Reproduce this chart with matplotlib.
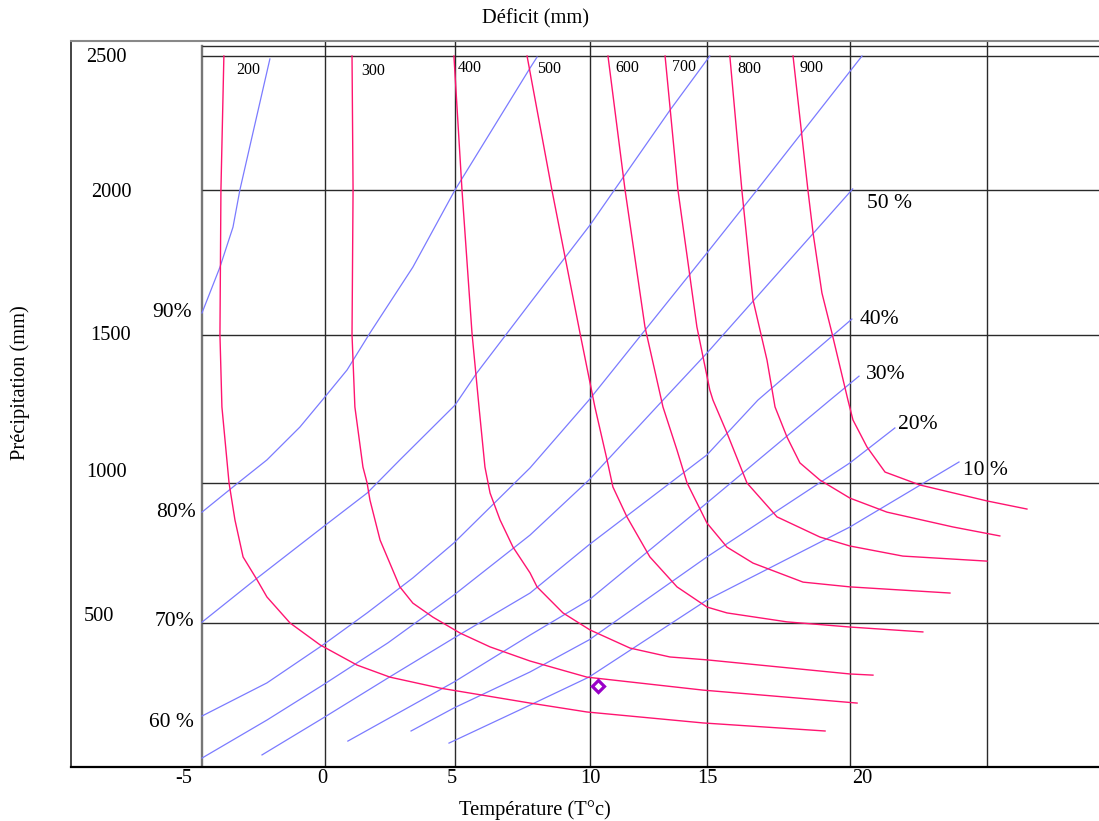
import numpy as np
import matplotlib
matplotlib.use("Agg")
import matplotlib.pyplot as plt

# deficit isolines (mm): temperature (°C) and precipitation (mm) along each curve
d200_t = [-4.11, -4.23, -4.27, -4.19, -3.90, -3.66, -3.33, -2.76, -2.36, -1.42, -0.20, 1.23, 2.5, 4.42, 7.78, 9.89, 14.83, 19.13]
d200_p = [2500, 2000, 1500, 1257, 1000, 868, 736, 654, 593, 500, 424, 354, 312, 274, 222, 191, 153, 125]
d300_t = [1.04, 1.08, 1.04, 1.15, 1.46, 1.62, 1.73, 2.12, 2.88, 3.38, 4.15, 5.19, 6.30, 7.78, 9.89, 14.83, 20.26]
d300_p = [2500, 2000, 1500, 1257, 1054, 1000, 939, 796, 629, 571, 521, 465, 417, 368, 312, 267, 222]
d400_t = [4.96, 5.26, 5.63, 5.89, 6.11, 6.30, 6.67, 7.15, 7.78, 8.04, 9.0, 10.0, 11.71, 13.42, 15.0, 20.0, 20.84]
d400_p = [2500, 2000, 1507, 1257, 1054, 964, 868, 771, 679, 629, 536, 476, 413, 382, 372, 323, 319]
d500_t = [7.67, 8.59, 9.63, 10.21, 10.73, 10.98, 11.58, 12.56, 13.72, 15.0, 15.70, 17.80, 20.0, 22.66]
d500_p = [2500, 2000, 1507, 1257, 1078, 986, 879, 736, 629, 557, 536, 504, 486, 469]
d600_t = [10.77, 11.50, 12.35, 13.12, 13.72, 14.15, 15.0, 15.70, 16.61, 18.36, 20.0, 23.65]
d600_p = [2500, 2000, 1528, 1257, 1111, 1000, 857, 771, 714, 646, 629, 607]
d700_t = [13.21, 13.76, 14.57, 15.10, 15.21, 15.70, 16.40, 17.45, 18.95, 20.0, 21.93, 25.0]
d700_p = [2500, 2000, 1528, 1314, 1280, 1169, 1000, 879, 807, 775, 739, 721]
d800_t = [15.80, 16.22, 16.61, 17.10, 17.38, 17.80, 18.25, 18.95, 20.0, 21.35, 23.76, 25.47]
d800_p = [2500, 2000, 1621, 1415, 1257, 1155, 1068, 1010, 946, 896, 843, 811]
d900_t = [18.01, 18.53, 18.71, 19.02, 19.37, 19.93, 20.11, 20.62, 21.28, 22.55, 25.0, 26.46]
d900_p = [2500, 2000, 1852, 1645, 1507, 1280, 1213, 1122, 1037, 993, 936, 907]

# humidity isolines (%)
h90_t = [-5, -4.27, -3.74, -3.46, -2.93, -2.24]
h90_p = [1576, 1734, 1872, 2000, 2213, 2489]
h80_t = [-5, -3.54, -2.36, -1.02, 0, 0.85, 1.73, 3.38, 5.0, 7.78, 8.04]
h80_p = [896, 1000, 1078, 1189, 1291, 1382, 1507, 1734, 2000, 2455, 2496]
h70_t = [-5, -2.85, -0.08, 1.62, 2.88, 5.0, 5.81, 7.78, 10.0, 13.42, 15.1]
h70_p = [503, 654, 843, 964, 1078, 1263, 1372, 1610, 1879, 2298, 2500]
h60_t = [-5, -2.36, -0.08, 1.62, 3.38, 4.96, 7.78, 9.96, 15.0, 16.75, 20.44]
h60_p = [177, 292, 424, 536, 661, 786, 1051, 1280, 1783, 2000, 2500]
h50_t = [-5, -2.36, -0.08, 2.42, 4.96, 7.78, 9.96, 13.12, 15.0, 20.1]
h50_p = [31, 163, 285, 431, 600, 814, 1010, 1280, 1439, 2004]
h40_t = [-2.56, -0.08, 2.42, 4.96, 7.78, 9.96, 15.0, 16.78, 20.07]
h40_p = [42, 170, 309, 448, 607, 779, 1095, 1280, 1555]
h30_t = [0.88, 4.96, 7.78, 9.96, 15.0, 19.30, 20.33]
h30_p = [90, 295, 458, 582, 929, 1280, 1361]
h20_t = [3.31, 4.96, 7.78, 9.96, 15.0, 20.0, 21.64]
h20_p = [125, 205, 330, 441, 736, 1068, 1186]
h10_t = [4.77, 7.78, 9.96, 15.0, 20.0, 23.98]
h10_p = [83, 215, 312, 582, 843, 1071]

station_t = [10.34]
station_p = [281]

deficit_labels = ["200", "300", "400", "500", "600", "700", "800", "900"]
humid_labels = ["90%", "80%", "70%", "60 %", "50 %", "40%", "30%", "20%", "10 %"]
x_tick_labels = ["-5", "0", "5", "10", "15", "20"]
y_tick_labels = ["2500", "2000", "1500", "1000", "500"]

deficit_curves = [(d200_t, d200_p), (d300_t, d300_p), (d400_t, d400_p), (d500_t, d500_p),
                  (d600_t, d600_p), (d700_t, d700_p), (d800_t, d800_p), (d900_t, d900_p)]
humid_curves = [(h90_t, h90_p), (h80_t, h80_p), (h70_t, h70_p), (h60_t, h60_p), (h50_t, h50_p),
                (h40_t, h40_p), (h30_t, h30_p), (h20_t, h20_p), (h10_t, h10_p)]

# label placement (layout only)
deficit_lab_pos = [(-3.13, 2446), (1.85, 2444), (5.54, 2455), (8.50, 2450),
                   (11.60, 2455), (14.04, 2459), (16.48, 2450), (18.67, 2457)]
humid_lab_pos = [(-6.15, 1579), (-5.99, 893), (-6.07, 507), (-6.15, 153), (21.46, 1952),
                 (21.06, 1555), (21.31, 1365), (22.48, 1196), (24.96, 1041)]
x_tick_pos = [-5.69, -0.12, 4.88, 10.0, 15.0, 20.44]
y_tick_pos = [(-8.65, 2496), (-8.47, 1991), (-8.51, 1497), (-8.65, 1034), (-8.93, 525)]

plt.rcParams['font.family'] = ['Liberation Serif', 'DejaVu Serif']

# the hand drawn grid is not evenly spaced, so use a piecewise linear scale
grid_t = [-100, -5, 0, 5, 10, 15, 20, 25, 100]
grid_x = [-2287, 202, 325, 455, 590, 707, 850, 987, 3042]
grid_p = [-2000, 0, 500, 1000, 1500, 2000, 2500, 5000]
grid_y = [-522, 54, 198, 338, 486, 631, 765, 1435]

fig = plt.figure(figsize=(10.99, 8.21), dpi=100)
ax = fig.add_axes([71 / 1099, 54 / 821, 1028 / 1099, 726 / 821])
ax.set_xscale('function', functions=(lambda v: np.interp(v, grid_t, grid_x),
                                     lambda v: np.interp(v, grid_x, grid_t)))
ax.set_yscale('function', functions=(lambda v: np.interp(v, grid_p, grid_y),
                                     lambda v: np.interp(v, grid_y, grid_p)))
ax.set_xlim(-10, 29.09)
ax.set_ylim(0, 2556)
ax.set_xticks([])
ax.set_yticks([])

# frame
ax.spines['right'].set_visible(False)
ax.spines['top'].set_color('#888888')
ax.spines['top'].set_linewidth(1.5)
ax.spines['left'].set_color('#111111')
ax.spines['left'].set_linewidth(1.1)
ax.spines['bottom'].set_color('#000000')
ax.spines['bottom'].set_linewidth(1.6)

# grid
ax.plot([-5, -5], [0, 2537], color='#777777', lw=1.7)
for t in [0, 5, 10, 15, 20, 25]:
    ax.axvline(t, color='#2a2a2a', lw=1.0)
for p in [500, 1000, 1500, 2000, 2500, 2537]:
    ax.hlines(p, -5, 29.09, color='#2a2a2a', lw=1.0)

for t, p in humid_curves:
    ax.plot(t, p, color='#7b7bff', lw=0.9)
for t, p in deficit_curves:
    ax.plot(t, p, color='#ff1470', lw=1.0)

ax.plot(station_t, station_p, 'D', ms=6.5, mfc='white', mec='#9a00c8', mew=2.3)

for lab, (t, p) in zip(deficit_labels, deficit_lab_pos):
    ax.text(t, p, lab, fontsize=11.5, ha='center', va='center')
for lab, (t, p) in zip(humid_labels, humid_lab_pos):
    ax.text(t, p, lab, fontsize=15.5, ha='center', va='center')
for lab, (t, p) in zip(y_tick_labels, y_tick_pos):
    ax.text(t, p, lab, fontsize=14.7, ha='center', va='center')
for lab, t in zip(x_tick_labels, x_tick_pos):
    ax.annotate(lab, xy=(t, 0), xytext=(0, -1.5), textcoords='offset points',
                ha='center', va='top', fontsize=14.7, annotation_clip=False)

fig.text(535 / 1099, 1 - 19 / 821, "Déficit (mm)", fontsize=14.8, ha='center', va='center')
fig.text(535 / 1099, 1 - 810 / 821, "Température (T°c)", fontsize=14.8, ha='center', va='center')
fig.text(20 / 1099, 1 - 383 / 821, "Précipitation (mm)", fontsize=14.8, ha='center', va='center',
         rotation=90)

fig.savefig("out.png", dpi=100)
